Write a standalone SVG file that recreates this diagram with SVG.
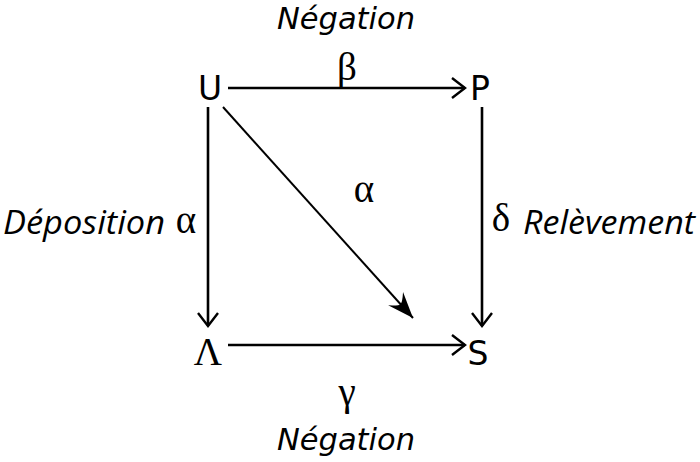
<svg xmlns="http://www.w3.org/2000/svg" width="700" height="462" viewBox="0 0 700 462">
<style>
.lbl{font-family:"Open Sans","DejaVu Sans",sans-serif;font-style:italic;font-size:33px;fill:#000}
.neg{font-family:"DejaVu Sans","Open Sans",sans-serif;font-style:italic;font-size:30px;fill:#000}
.node{font-family:"DejaVu Sans","Open Sans",sans-serif;font-size:33px;fill:#000}
.greek{font-family:"Liberation Serif","DejaVu Serif",serif;font-style:normal;font-size:39px;fill:#000}
.edge{stroke:#000;stroke-width:2.6;fill:none}
.diag{stroke:#000;stroke-width:2;fill:none}
</style>
<defs>
<marker id="open" markerUnits="userSpaceOnUse" markerWidth="30" markerHeight="30" viewBox="-20 -15 30 30" refX="0" refY="0" orient="auto">
<path d="M-13,-10 L0,0 L-13,10" stroke="#000" stroke-width="2.4" fill="none" stroke-linejoin="miter"/>
</marker>
<marker id="solid" markerUnits="userSpaceOnUse" markerWidth="40" markerHeight="40" viewBox="-30 -20 40 40" refX="0" refY="0" orient="auto">
<path d="M0,0 L-26,-10 Q-18,-2 -19,0 Q-18,2 -26,10 Z" fill="#000"/>
</marker>
</defs>
<g id="connectors">
<line class="edge" x1="228" y1="88" x2="465" y2="88" marker-end="url(#open)"/>
<line class="edge" x1="228" y1="345" x2="465" y2="345" marker-end="url(#open)"/>
<line class="edge" x1="208" y1="107" x2="208" y2="326" marker-end="url(#open)"/>
<line class="edge" x1="482" y1="107" x2="482" y2="326" marker-end="url(#open)"/>
<line class="diag" x1="223" y1="107" x2="413" y2="318" marker-end="url(#solid)"/>
</g>
<g id="node-U"><text class="node" x="210" y="100" text-anchor="middle">U</text></g>
<g id="node-P"><text class="node" x="480" y="100" text-anchor="middle">P</text></g>
<g id="node-Lambda"><text class="greek" x="208" y="365" text-anchor="middle">Λ</text></g>
<g id="node-S"><text class="node" x="478" y="365" text-anchor="middle">S</text></g>
<g id="labels">
<text class="neg" x="277" y="29" textLength="138" lengthAdjust="spacingAndGlyphs">Négation</text>
<text class="greek" x="347" y="80" text-anchor="middle">β</text>
<text class="greek" x="364" y="202" text-anchor="middle">α</text>
<text class="lbl" x="3" y="234" textLength="162" lengthAdjust="spacingAndGlyphs">Déposition</text>
<text class="greek" x="186" y="233" text-anchor="middle">α</text>
<text class="greek" x="501" y="231" text-anchor="middle">δ</text>
<text class="lbl" x="523" y="234" textLength="172" lengthAdjust="spacingAndGlyphs">Relèvement</text>
<text class="greek" x="347" y="405" text-anchor="middle">γ</text>
<text class="neg" x="277" y="450" textLength="138" lengthAdjust="spacingAndGlyphs">Négation</text>
</g>
</svg>
